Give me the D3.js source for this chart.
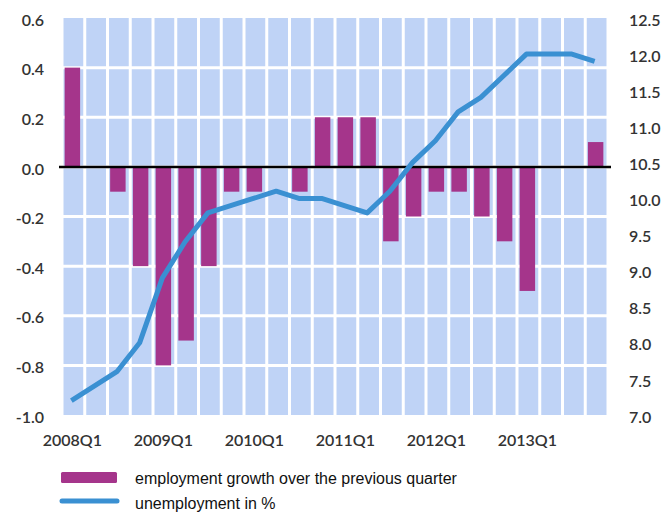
<!DOCTYPE html>
<html>
<head>
<meta charset="utf-8">
<script src="https://cdn.jsdelivr.net/npm/d3@7/dist/d3.min.js"></script>
<style>
  html, body { margin: 0; padding: 0; background: #fff; }
  svg { display: block; }
</style>
</head>
<body>
<svg id="chart" width="666" height="513"></svg>
<script>
const quarters = [
  "2008Q1","2008Q2","2008Q3","2008Q4",
  "2009Q1","2009Q2","2009Q3","2009Q4",
  "2010Q1","2010Q2","2010Q3","2010Q4",
  "2011Q1","2011Q2","2011Q3","2011Q4",
  "2012Q1","2012Q2","2012Q3","2012Q4",
  "2013Q1","2013Q2","2013Q3","2013Q4"
];
const employmentGrowth = [
  0.4, 0.0, -0.1, -0.4,
  -0.8, -0.7, -0.4, -0.1,
  -0.1, 0.0, -0.1, 0.2,
  0.2, 0.2, -0.3, -0.2,
  -0.1, -0.1, -0.2, -0.3,
  -0.5, 0.0, 0.0, 0.1
];
const unemployment = [
  7.2, 7.4, 7.6, 8.0,
  8.9, 9.4, 9.8, 9.9,
  10.0, 10.1, 10.0, 10.0,
  9.9, 9.8, 10.1, 10.5,
  10.8, 11.2, 11.4, 11.7,
  12.0, 12.0, 12.0, 11.9
];
const xTickLabels = ["2008Q1","2009Q1","2010Q1","2011Q1","2012Q1","2013Q1"];
const leftTicks = [0.6, 0.4, 0.2, 0.0, -0.2, -0.4, -0.6, -0.8, -1.0];
const rightTicks = [12.5, 12.0, 11.5, 11.0, 10.5, 10.0, 9.5, 9.0, 8.5, 8.0, 7.5, 7.0];
const legendLabels = ["employment growth over the previous quarter", "unemployment in %"];

const svg = d3.select("#chart");
const plotTop = 18, plotBottom = 415, plotLeft = 62, plotRight = 608;

const x = d3.scaleBand().domain(quarters).range([plotLeft, plotRight]).padding(0);
const yL = d3.scaleLinear().domain([-1.0, 0.6]).range([plotBottom, plotTop]);
const yR = d3.scaleLinear().domain([7.0, 12.5]).range([plotBottom, plotTop]);

const bw = x.bandwidth();
const colW = bw - 3;
const barW = bw * 0.68;
const fmt = d => d.toFixed(1);

// background columns
svg.append("g").selectAll("rect").data(quarters).join("rect")
  .attr("x", d => x(d) + (bw - colW) / 2)
  .attr("y", plotTop)
  .attr("width", colW)
  .attr("height", plotBottom - plotTop)
  .attr("fill", "#bfd3f6");

// white horizontal gridlines
svg.append("g").selectAll("line").data(leftTicks.filter(t => t < 0.6 && t > -1.0)).join("line")
  .attr("x1", plotLeft - 2).attr("x2", plotRight + 2)
  .attr("y1", d => yL(d)).attr("y2", d => yL(d))
  .attr("stroke", "#fff").attr("stroke-width", 3);

// bars
svg.append("g").selectAll("rect").data(quarters.map((q, i) => ({q, v: employmentGrowth[i]})).filter(d => d.v !== 0)).join("rect")
  .attr("x", d => x(d.q) + (bw - barW) / 2 - 1)
  .attr("y", d => Math.min(yL(d.v), yL(0)))
  .attr("width", barW)
  .attr("height", d => Math.abs(yL(d.v) - yL(0)))
  .attr("fill", "#a5358b");

// zero line
svg.append("line")
  .attr("x1", plotLeft - 3).attr("x2", plotRight + 3)
  .attr("y1", yL(0)).attr("y2", yL(0))
  .attr("stroke", "#000").attr("stroke-width", 2.5);

// unemployment line
const line = d3.line()
  .x((d, i) => x(quarters[i]) + bw / 2 - 2)
  .y(d => yR(d));
svg.append("path")
  .datum(unemployment)
  .attr("d", line)
  .attr("fill", "none")
  .attr("stroke", "#3a90d2")
  .attr("stroke-width", 5)
  .attr("stroke-linejoin", "round");

// axes
const tickFont = "Lato, 'Open Sans', sans-serif";
const leftAxis = d3.axisLeft(yL).tickValues(leftTicks).tickFormat(fmt).tickSize(0).tickPadding(0);
const gL = svg.append("g").attr("transform", `translate(44,2)`).call(leftAxis);
gL.select(".domain").remove();
gL.selectAll("text").attr("font-family", tickFont).attr("font-size", 16).attr("fill", "#333").attr("font-weight", 600);

const rightAxis = d3.axisRight(yR).tickValues(rightTicks).tickFormat(fmt).tickSize(0).tickPadding(0);
const gR = svg.append("g").attr("transform", `translate(629,2)`).call(rightAxis);
gR.select(".domain").remove();
gR.selectAll("text").attr("font-family", tickFont).attr("font-size", 16).attr("fill", "#333").attr("font-weight", 600);

const bottomAxis = d3.axisBottom(x).tickValues(xTickLabels).tickSize(0).tickPadding(0);
const gB = svg.append("g").attr("transform", `translate(-1,435)`).call(bottomAxis);
gB.select(".domain").remove();
gB.selectAll("text").attr("font-family", tickFont).attr("font-size", 16).attr("fill", "#333").attr("font-weight", 600);

// legend
const lg = svg.append("g");
lg.append("rect").attr("x", 61).attr("y", 472).attr("width", 56).attr("height", 11).attr("rx", 1.5).attr("fill", "#a5358b");
lg.append("line").attr("x1", 62).attr("x2", 117).attr("y1", 501).attr("y2", 501)
  .attr("stroke", "#3a90d2").attr("stroke-width", 5).attr("stroke-linecap", "round");
lg.selectAll("text").data(legendLabels).join("text")
  .attr("x", 135)
  .attr("y", (d, i) => 484 + i * 25)
  .attr("font-family", "'Liberation Sans', Arial, sans-serif")
  .attr("font-size", 16)
  .attr("fill", "#111")
  .text(d => d);
</script>
</body>
</html>
